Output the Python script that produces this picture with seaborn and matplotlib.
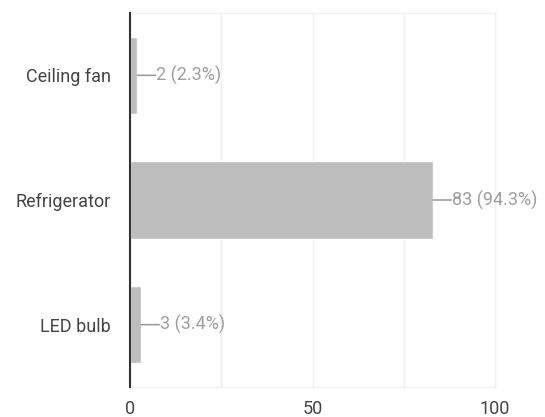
import matplotlib
matplotlib.use("Agg")
import matplotlib.pyplot as plt
import seaborn as sns
import pandas as pd

categories = ["Ceiling fan", "Refrigerator", "LED bulb"]
counts = [2, 83, 3]
percents = [2.3, 94.3, 3.4]
x_ticks = [0, 50, 100]

sns.set_style("white")
plt.rcParams['font.family'] = ['Roboto', 'DejaVu Sans']

df = pd.DataFrame({"item": categories, "count": counts})

fig = plt.figure(figsize=(5.45, 4.17), dpi=100)
ax = fig.add_axes([130 / 545, 30 / 417, 365 / 545, 374 / 417])

sns.barplot(data=df, x="count", y="item", color="#bdbdbd", width=0.62,
            saturation=1, ax=ax, zorder=2)

ax.set_xlim(0, 100)
ax.set_ylim(2.5, -0.5)
ax.set_xticks([0, 25, 50, 75, 100])
ax.set_xticklabels(["0", "", "50", "", "100"])
ax.grid(axis="x", color="#efefef", linewidth=1, zorder=0)
for gl in ax.get_xgridlines():
    gl.set_clip_on(False)
ax.tick_params(axis="both", length=0, labelsize=13, colors="#444444")
ax.tick_params(axis="y", pad=14)
ax.tick_params(axis="x", pad=9)
ax.set_xlabel("")
ax.set_ylabel("")
# faint frame, dark baseline on the left
for side in ["top", "right", "bottom"]:
    ax.spines[side].set_color("#f2f2f2")
    ax.spines[side].set_linewidth(1)
ax.spines["left"].set_color("#333333")
ax.spines["left"].set_linewidth(1.5)
ax.spines["left"].set_zorder(3)

# leader lines and value labels
for i, (c, p) in enumerate(zip(counts, percents)):
    ax.annotate("", xy=(c, i), xytext=(c + 5, i),
                arrowprops=dict(arrowstyle="-", color="#9e9e9e", lw=1.2,
                                shrinkA=0, shrinkB=0))
    ax.text(c + 5.2, i, f"{c} ({p}%)", va="center", ha="left",
            fontsize=13, color="#9e9e9e")

fig.savefig("out.png", dpi=100)
